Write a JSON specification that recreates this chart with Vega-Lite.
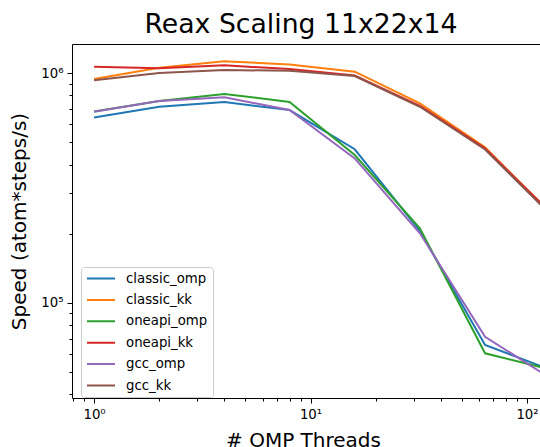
{
  "$schema": "https://vega.github.io/schema/vega-lite/v6.json",
  "width": 468,
  "height": 354,
  "autosize": {"type": "none"},
  "padding": {"left": 72, "top": 44, "right": 0, "bottom": 49},
  "background": "white",
  "title": {"text": "Reax Scaling 11x22x14", "fontSize": 26.7, "font": "DejaVu Sans", "fontWeight": "normal", "color": "black", "offset": 5, "dx": -5},
  "data": {"values": [
    {"threads": 1, "series": "classic_omp", "speed": 640000},
    {"threads": 2, "series": "classic_omp", "speed": 713000},
    {"threads": 4, "series": "classic_omp", "speed": 748000},
    {"threads": 8, "series": "classic_omp", "speed": 690000},
    {"threads": 16, "series": "classic_omp", "speed": 466000},
    {"threads": 32, "series": "classic_omp", "speed": 206000},
    {"threads": 64, "series": "classic_omp", "speed": 65600},
    {"threads": 128, "series": "classic_omp", "speed": 51300},
    {"threads": 1, "series": "classic_kk", "speed": 942000},
    {"threads": 2, "series": "classic_kk", "speed": 1055000},
    {"threads": 4, "series": "classic_kk", "speed": 1124000},
    {"threads": 8, "series": "classic_kk", "speed": 1090000},
    {"threads": 16, "series": "classic_kk", "speed": 1013000},
    {"threads": 32, "series": "classic_kk", "speed": 738000},
    {"threads": 64, "series": "classic_kk", "speed": 475000},
    {"threads": 128, "series": "classic_kk", "speed": 246000},
    {"threads": 1, "series": "oneapi_omp", "speed": 680000},
    {"threads": 2, "series": "oneapi_omp", "speed": 755000},
    {"threads": 4, "series": "oneapi_omp", "speed": 811000},
    {"threads": 8, "series": "oneapi_omp", "speed": 748000},
    {"threads": 16, "series": "oneapi_omp", "speed": 440000},
    {"threads": 32, "series": "oneapi_omp", "speed": 211000},
    {"threads": 64, "series": "oneapi_omp", "speed": 60400},
    {"threads": 128, "series": "oneapi_omp", "speed": 51400},
    {"threads": 1, "series": "oneapi_kk", "speed": 1065000},
    {"threads": 2, "series": "oneapi_kk", "speed": 1050000},
    {"threads": 4, "series": "oneapi_kk", "speed": 1080000},
    {"threads": 8, "series": "oneapi_kk", "speed": 1040000},
    {"threads": 16, "series": "oneapi_kk", "speed": 975000},
    {"threads": 32, "series": "oneapi_kk", "speed": 720000},
    {"threads": 64, "series": "oneapi_kk", "speed": 470000},
    {"threads": 128, "series": "oneapi_kk", "speed": 248000},
    {"threads": 1, "series": "gcc_omp", "speed": 679000},
    {"threads": 2, "series": "gcc_omp", "speed": 755000},
    {"threads": 4, "series": "gcc_omp", "speed": 784000},
    {"threads": 8, "series": "gcc_omp", "speed": 690000},
    {"threads": 16, "series": "gcc_omp", "speed": 425000},
    {"threads": 32, "series": "gcc_omp", "speed": 201000},
    {"threads": 64, "series": "gcc_omp", "speed": 71300},
    {"threads": 128, "series": "gcc_omp", "speed": 47100},
    {"threads": 1, "series": "gcc_kk", "speed": 929000},
    {"threads": 2, "series": "gcc_kk", "speed": 1000000},
    {"threads": 4, "series": "gcc_kk", "speed": 1030000},
    {"threads": 8, "series": "gcc_kk", "speed": 1023000},
    {"threads": 16, "series": "gcc_kk", "speed": 970000},
    {"threads": 32, "series": "gcc_kk", "speed": 713000},
    {"threads": 64, "series": "gcc_kk", "speed": 465000},
    {"threads": 128, "series": "gcc_kk", "speed": 243000}
  ]},
  "layer": [
    {
      "mark": {"type": "line", "strokeWidth": 2, "clip": true},
      "encoding": {
        "x": {
          "field": "threads", "type": "quantitative",
          "scale": {"type": "log", "domain": [0.791, 114.8], "nice": false},
          "axis": {
            "title": "# OMP Threads",
            "values": [0.8, 0.9, 1, 2, 3, 4, 5, 6, 7, 8, 9, 10, 20, 30, 40, 50, 60, 70, 80, 90, 100],
            "labelExpr": "datum.value == 1 ? '10⁰' : datum.value == 10 ? '10¹' : datum.value == 100 ? '10²' : ''",
            "tickSize": {"condition": {"test": "datum.value == 1 || datum.value == 10 || datum.value == 100", "value": 5}, "value": 3},
            "labelPadding": 4,
            "titlePadding": 10,
            "titleX": 231
          }
        },
        "y": {
          "field": "speed", "type": "quantitative",
          "scale": {"type": "log", "domain": [38600, 1337000], "nice": false},
          "axis": {
            "title": "Speed (atom*steps/s)",
            "values": [40000, 50000, 60000, 70000, 80000, 90000, 100000, 200000, 300000, 400000, 500000, 600000, 700000, 800000, 900000, 1000000],
            "labelExpr": "datum.value == 100000 ? '10⁵' : datum.value == 1000000 ? '10⁶' : ''",
            "tickSize": {"condition": {"test": "datum.value == 100000 || datum.value == 1000000", "value": 5}, "value": 3},
            "labelPadding": 4,
            "titlePadding": 11
          }
        },
        "color": {
          "field": "series", "type": "nominal",
          "scale": {
            "domain": ["classic_omp", "classic_kk", "oneapi_omp", "oneapi_kk", "gcc_omp", "gcc_kk"],
            "range": ["#1f77b4", "#ff7f0e", "#2ca02c", "#d62728", "#9467bd", "#8c564b"]
          },
          "legend": {
            "title": null,
            "orient": "none",
            "legendX": 9,
            "legendY": 223,
            "symbolType": "stroke",
            "symbolSize": 784,
            "symbolStrokeWidth": 2,
            "clipHeight": 13,
            "labelFontSize": 13.3,
            "labelFont": "DejaVu Sans",
            "labelColor": "black",
            "labelOffset": 10,
            "rowPadding": 7.4,
            "padding": 5,
            "fillColor": "white",
            "strokeColor": "#cccccc",
            "cornerRadius": 3
          }
        }
      }
    },
    {
      "mark": {"type": "rule", "opacity": 0},
      "encoding": {
        "x": {
          "field": "threads", "type": "quantitative",
          "axis": {"orient": "top", "labels": false, "ticks": false, "domain": true, "title": null, "grid": false}
        }
      }
    }
  ],
  "resolve": {"axis": {"x": "independent"}},
  "config": {
    "view": {"stroke": null},
    "axis": {
      "grid": false,
      "domainColor": "black",
      "domainWidth": 1,
      "tickColor": "black",
      "tickWidth": 1,
      "labelColor": "black",
      "labelFont": "DejaVu Sans",
      "labelFontSize": 13.3,
      "labelFlush": false,
      "labelOverlap": false,
      "labelBound": false,
      "titleFont": "DejaVu Sans",
      "titleFontSize": 20,
      "titleFontWeight": "normal",
      "titleColor": "black"
    }
  }
}
